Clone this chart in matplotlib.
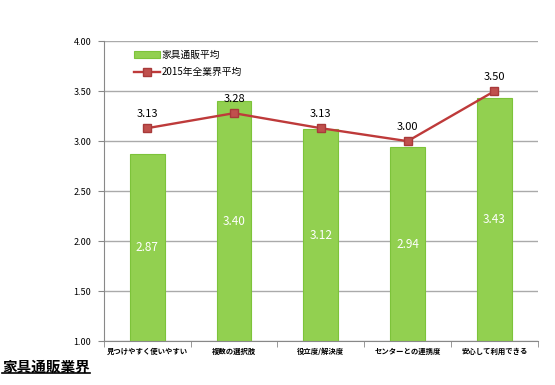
import matplotlib
matplotlib.use("Agg")
import matplotlib.pyplot as plt
from matplotlib.lines import Line2D
import numpy as np

plt.rcParams['font.family'] = ['Noto Sans CJK JP', 'DejaVu Sans']

categories = ["見つけやすく使いやすい", "複数の選択肢", "役立度/解決度", "センターとの連携度", "安心して利用できる"]
furniture_avg = [2.87, 3.40, 3.12, 2.94, 3.43]
industry_avg = [3.13, 3.28, 3.13, 3.00, 3.50]
yticks = [1.00, 1.50, 2.00, 2.50, 3.00, 3.50, 4.00]

fig = plt.figure(figsize=(5.55, 3.85), dpi=100)
ax = fig.add_axes([0.187, 0.114, 0.782, 0.779])

x = np.arange(len(categories))
bars = ax.bar(x, [v - 1 for v in furniture_avg], bottom=1, width=0.4,
              color="#92D050", edgecolor="#7DC33A", linewidth=0.8,
              label="家具通販平均", zorder=2)
line, = ax.plot(x, industry_avg, color="#BE3A3A", linewidth=1.7, marker="s",
                markersize=6, markerfacecolor="#C0504D", markeredgecolor="#A83A3A",
                label="2015年全業界平均", zorder=3)

for xi, v in zip(x, furniture_avg):
    ax.text(xi, 1 + (v - 1) / 2, f"{v:.2f}", ha="center", va="center",
            color="white", fontsize=8.5, zorder=4)
for xi, v in zip(x, industry_avg):
    ax.text(xi, v + 0.09, f"{v:.2f}", ha="center", va="bottom",
            color="black", fontsize=8, zorder=4)

ax.set_xlim(-0.5, len(categories) - 0.5)
ax.set_ylim(1, 4)
ax.set_yticks(yticks)
ax.set_yticklabels([f"{t:.2f}" for t in yticks], fontsize=6.5)
ax.set_xticks(x)
ax.set_xticklabels(categories, fontsize=5.3, fontweight="bold", va="baseline")
ax.set_xticks(np.arange(len(categories) + 1) - 0.5, minor=True)
ax.tick_params(axis="x", which="major", length=0, pad=9)
ax.tick_params(axis="x", which="minor", length=4, color="#888888")
ax.tick_params(axis="y", length=4, color="#888888", pad=5)
ax.grid(axis="y", color="#AAAAAA", linewidth=1, zorder=0)
ax.set_axisbelow(True)
for side in ["top", "right"]:
    ax.spines[side].set_visible(False)
ax.spines["left"].set_color("#888888")
ax.spines["bottom"].set_color("#888888")

ax.legend([bars, line], ["家具通販平均", "2015年全業界平均"],
          loc="upper left", bbox_to_anchor=(0.05, 1.0), frameon=False,
          fontsize=7, handlelength=2.6, labelspacing=0.75, handletextpad=0.2)

title = fig.text(0.004, 0.026, "家具通販業界", fontsize=10.5, fontweight="bold",
                 ha="left", va="bottom")
fig.canvas.draw()
bb = title.get_window_extent().transformed(fig.transFigure.inverted())
fig.add_artist(Line2D([bb.x0, bb.x1], [bb.y0 + 0.004, bb.y0 + 0.004],
                      color="black", linewidth=1.2, transform=fig.transFigure))

fig.savefig("out.png", dpi=100)
